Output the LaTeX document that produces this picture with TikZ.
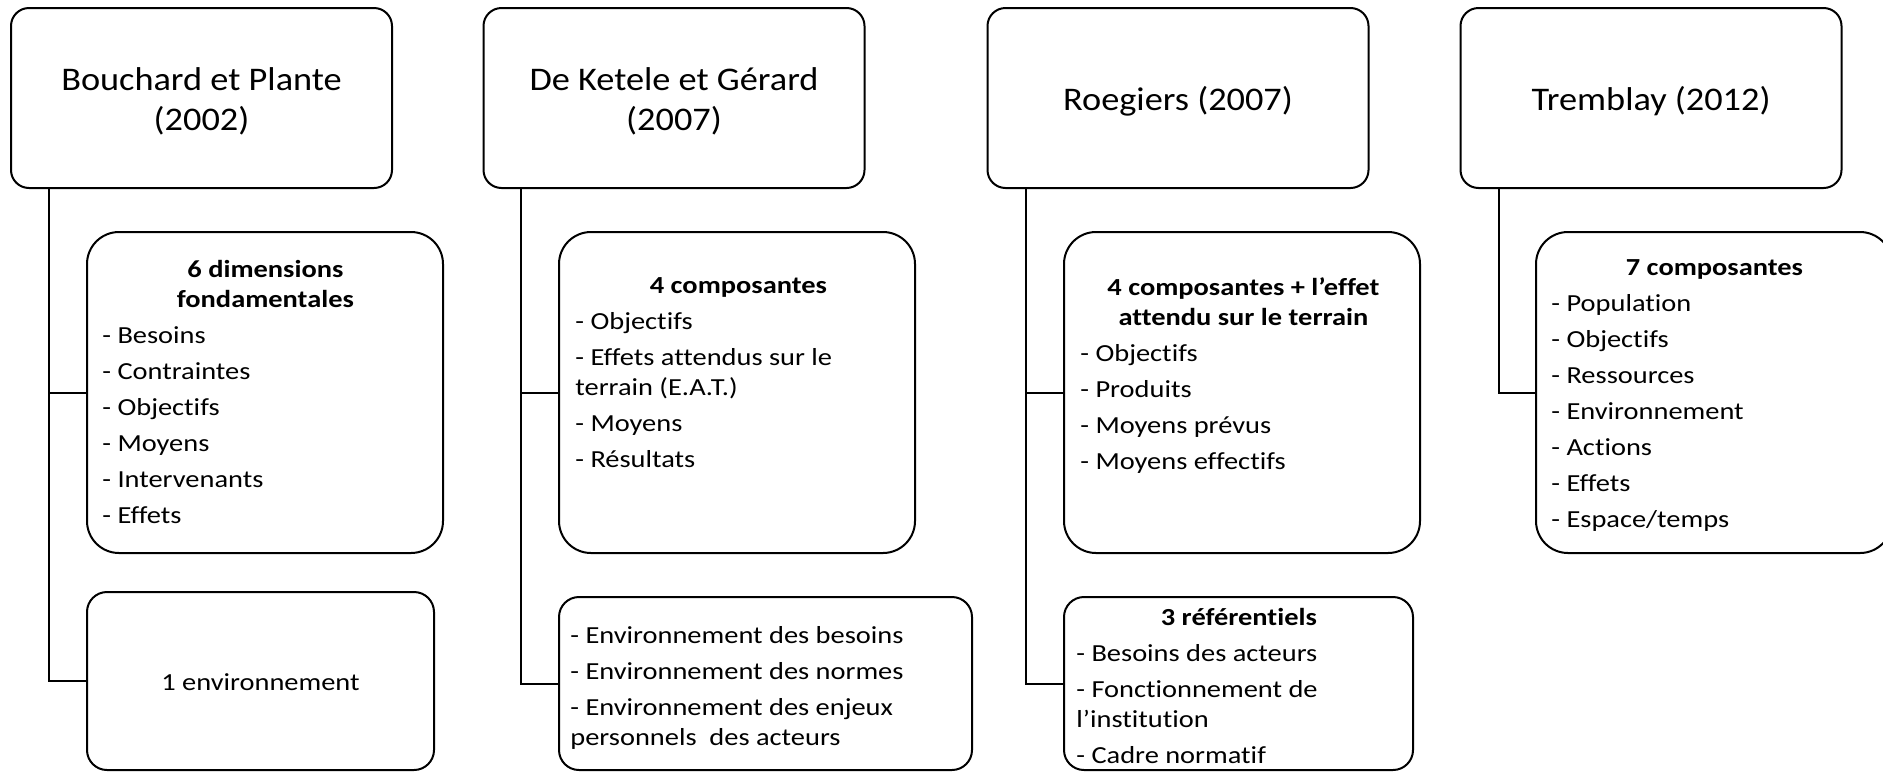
\documentclass[tikz,border=0pt]{standalone}
\usepackage{fontspec}
\setmainfont{Carlito}[Ligatures=NoCommon]
\newfontfamily\titlef{Carlito}[FakeStretch=1.1, Ligatures=NoCommon]
\newfontfamily\bodyf{Carlito}[FakeStretch=1.16, Ligatures=NoCommon]
\newcommand\listblock[2]{\begin{minipage}[t]{#1}\bodyf\fontsize{12.25}{15}\selectfont\setlength\parskip{3pt}\setlength\parindent{0pt}#2\end{minipage}}
\tikzset{
  topbox/.style={draw, line width=1pt, rounded corners=9pt, minimum width=190.5pt, minimum height=90pt, inner sep=0pt},
  titletxt/.style={inner sep=0pt, align=center, font=\titlef\fontsize{16.5}{20}\selectfont},
  listbox/.style={draw, line width=1pt, rounded corners=16pt, minimum width=178pt, minimum height=160.5pt, inner sep=0pt},
  envbox/.style={draw, line width=1pt, rounded corners=10pt, inner sep=0pt},
  conn/.style={line width=1pt},
  txt/.style={inner sep=0pt, anchor=base west}
}
\begin{document}
\begin{tikzpicture}[x=0.5pt, y=-0.5pt]
\useasboundingbox (0,0) rectangle (1883,772);
% top boxes
\node[topbox] (t1) at (201.5,98) {};
\node[topbox] (t2) at (674,98) {};
\node[topbox] (t3) at (1178,98) {};
\node[topbox] (t4) at (1651,98) {};
\node[titletxt] (n1) at ([yshift=-1.75pt]t1.center) {Bouchard et Plante\\(2002)};
\node[titletxt] (n2) at ([yshift=-1.75pt]t2.center) {De Ketele et Gérard\\(2007)};
\node[titletxt] (n3) at ([yshift=-1.75pt]t3.center) {Roegiers (2007)};
\node[titletxt] (n4) at ([yshift=-1.75pt]t4.center) {Tremblay (2012)};
% list boxes
\node[listbox] (b11) at (265,392.5) {};
\node[listbox] (b21) at (737,392.5) {};
\node[listbox] (b31) at (1242,392.5) {};
\node[listbox] (b41) at (1714,392.5) {};
% environment boxes
\node[envbox, minimum width=173.5pt, minimum height=89pt] (b12) at (260.5,681) {};
\node[envbox, minimum width=206.5pt, minimum height=86.5pt] (b22) at (765.5,683.5) {};
\node[envbox, minimum width=174.5pt, minimum height=86.5pt] (b32) at (1238.5,683.5) {};
% texts
\node[txt] (x11) at (102,277) {\listblock{163pt}{{\centering\bfseries 6 dimensions\\fondamentales\par}\raggedright
- Besoins\par - Contraintes\par - Objectifs\par - Moyens\par - Intervenants\par - Effets\par}};
\node[txt] (x21) at (575,293) {\listblock{163pt}{{\centering\bfseries 4 composantes\par}\raggedright
- Objectifs\par - Effets attendus sur le\\terrain (E.A.T.)\par - Moyens\par - Résultats\par}};
\node[txt] (x31) at (1080,295) {\listblock{163pt}{{\centering\bfseries 4 composantes + l’effet\\attendu sur le terrain\par}\raggedright
- Objectifs\par - Produits\par - Moyens prévus\par - Moyens effectifs\par}};
\node[txt] (x41) at (1551,275) {\listblock{163pt}{{\centering\bfseries 7 composantes\par}\raggedright
- Population\par - Objectifs\par - Ressources\par - Environnement\par - Actions\par - Effets\par - Espace/temps\par}};
\node[inner sep=0pt, anchor=base, font=\bodyf\fontsize{12.25}{15}\selectfont] (x12) at (260.5,690) {1 environnement};
\node[txt] (x22) at (570,643) {\listblock{195pt}{\raggedright
- Environnement des besoins\par - Environnement des normes\par - Environnement des enjeux\\personnels~ des acteurs\par}};
\node[txt] (x32) at (1076,625) {\listblock{162.5pt}{{\centering\bfseries 3 référentiels\par}\raggedright
- Besoins des acteurs\par - Fonctionnement de\\l’institution\par - Cadre normatif\par}};
% trunk coordinates
\coordinate (k1) at ([xshift=19.5pt]t1.south west);
\coordinate (k2) at ([xshift=19pt]t2.south west);
\coordinate (k3) at ([xshift=19.5pt]t3.south west);
\coordinate (k4) at ([xshift=19.5pt]t4.south west);
% connectors
\draw[conn] (k1) |- (b12.west);
\draw[conn] (b11.west) -- (b11.west -| k1);
\draw[conn] (k2) |- (b22.west);
\draw[conn] (b21.west) -- (b21.west -| k2);
\draw[conn] (k3) |- (b32.west);
\draw[conn] (b31.west) -- (b31.west -| k3);
\draw[conn] (k4) |- (b41.west);
\end{tikzpicture}
\end{document}
